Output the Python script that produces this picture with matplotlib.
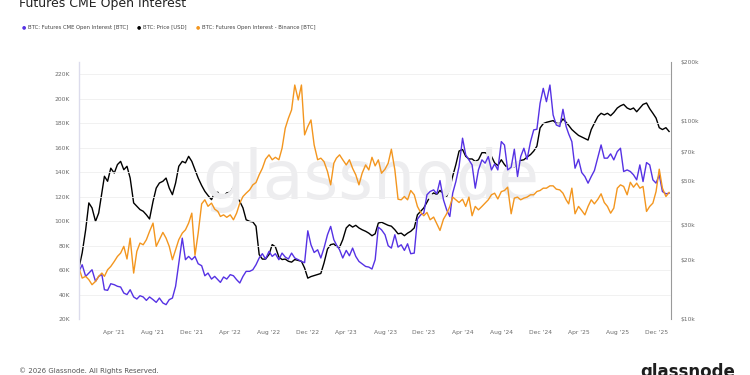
import matplotlib
matplotlib.use("Agg")
import matplotlib.pyplot as plt
import matplotlib.dates as mdates
import matplotlib.ticker as mticker
import pandas as pd

# sample dates: 1st, 11th and 21st of each month, Dec 2020 - Jan 2026
all_days = [f"{y}-{m:02d}-{d:02d}" for y in range(2020, 2027) for m in range(1, 13) for d in (1, 11, 21)]
dates = pd.to_datetime([d for d in all_days if "2020-12-11" <= d <= "2026-01-11"])

# BTC price, thousand USD (right, log axis)
price = [18.2, 21.6, 28.3, 38.7, 36.5, 31.2, 34.4, 43.5, 52.8, 49.8,
         58, 54.8, 60.5, 62.8, 57, 59.3, 51.7, 38.7, 37.2, 35.8,
         35.1, 33.7, 32.1, 39.4, 46, 48.8, 49.8, 51.7, 46, 42.6,
         48.8, 59.3, 62.8, 61.7, 66.6, 62.8, 57, 51.7, 47.4, 44.3,
         42.2, 40.2, 43.5, 43.8, 41,
         41.8, 43.5, 43.8, 46.5, 41.5,
         39.4, 36.5, 31.8, 31.2, 31, 29.5, 21.2, 20.1, 20.1, 21.2,
         23.8, 23.2, 20.6, 20, 20.1, 19.6, 19.4, 20, 19.8, 19.6,
         18.1, 16.1, 16.4, 16.6, 16.8, 17, 19.2, 22.6, 23.8, 24,
         23.3, 23.1, 25.2, 28.9, 30, 29.2, 29.8,
         28.9, 28.3, 27.8,
         27.2, 26.4, 27, 30.6, 30.9, 30.3, 29.8, 29.5, 28.3, 27,
         27.2, 26.4, 27.2, 27.8, 28.9, 33.7, 35.1, 36.5, 39, 41.8,
         43.5, 42.6, 44.8, 42.6, 41.8, 46, 52.8, 60.5, 70.8, 72.2,
         66.6, 64.6, 64.6, 62.8, 64, 69.5, 69.5, 68, 66.6, 61.7,
         59.8, 64,
         60.5, 58, 59, 59, 60.5, 63.5, 64, 66,
         68, 70.8, 75, 92.7, 97.5, 99, 100, 101, 98, 97.5,
         103, 99, 95.5, 91, 88, 85, 83.5, 82, 80.5, 91,
         98, 106, 110, 108, 110, 107, 111, 117, 120, 122,
         117, 115, 117, 112, 117, 122, 124, 116, 110, 104,
         93, 91, 93, 89]

# Binance futures open interest, thousand BTC
binance_oi = [61.6, 53.4, 54.8, 52.1, 48, 50.7, 54.8, 57.5, 54.8, 60.2,
              62.9, 67, 71.1, 73.8, 79.3, 69, 86, 57.5, 75.2, 82,
              80.6, 84.7, 91.5, 98.3, 79.3, 84.7, 90.7, 86, 79.3, 68.4,
              76.5, 84.7, 90.1, 92.8, 98.3, 106.4, 72, 90, 114, 117.3,
              112, 114.6, 109.7, 107.8, 103.7,
              105, 103, 105, 101, 106.4,
              114.6, 120, 122.7, 125.4, 129.5, 131.4, 137.7, 143, 150.4, 154,
              150, 152, 150, 159.4, 175.7, 183.9, 190.7, 211, 198.8, 211,
              170.3, 177.1, 182.5, 162.1, 150, 151.3, 148.5, 140.4, 129.5, 147.2,
              151.3, 154, 150, 145.8, 150, 143, 137.7,
              129.5, 139, 145.8,
              141.7, 152, 145, 149.9, 139, 142.3, 147.2, 158.6, 141.7, 117.8,
              117.3, 120, 117.3, 124.9, 121.4, 111.9, 107, 104.3, 107, 101,
              103.2, 97.7, 92.3, 101.5, 105.9, 111.9, 119.5, 117.3, 115.1, 117.8,
              111.9, 119.5, 104.3, 111.9, 109.1, 111.9, 114.6, 117.3, 121.4, 122.7,
              118, 124,
              124.9, 127.6, 105.9, 118.7, 119.5, 117.3, 118.7, 119.5,
              121.4, 121.4, 124.1, 124.9, 126.8, 126.8, 128.7, 128.7, 126, 125.4,
              122.7, 117.3, 114, 126.8, 105.9, 111.9, 108.6, 105, 111.9, 117.3,
              114, 117.8, 122.2, 115.1, 111.9, 106.4, 110.5, 126.8, 129.5, 128.2,
              121.4, 131.6, 127.6, 130.9, 126.8, 128.2, 107.8, 111.9, 114.6, 124.1,
              142.3, 126.8, 120, 123.3]

# CME futures open interest, thousand BTC
cme_oi = [58.9, 64.3, 54.8, 57.5, 60.2, 50.7, 54.8, 56.2, 43.9, 43.4,
          48.8, 48, 46.7, 46.1, 41.2, 39.9, 43.9, 38, 36.3, 39,
          38, 35.2, 38, 35.8, 33.6, 37.1, 33.1, 31.7, 35.8, 37.1,
          46.7, 65.7, 86, 68.4, 71.1, 68.4, 71.1, 65.1, 63.5, 55.3,
          57.5, 52.6, 54.8, 52.1, 49.9,
          54.3, 52.6, 56.2, 55.3, 52.1,
          49.4, 54.8, 58.9, 58.9, 60.2, 64.3, 69.8, 73.3, 69, 75.2,
          71.1, 73.3, 68.4, 73.8, 70.6, 69, 73.8, 69.8, 68.4, 67,
          66, 92, 80.6, 74.3, 76.5, 69.8, 77.9, 88.8, 95.6, 84.7,
          80.6, 76.5, 69.8, 76, 71.6, 77.9, 71.1,
          67, 65.1, 62.9,
          62.4, 60.8, 68.4, 95, 92.8, 88.8, 79.8, 77.9, 88.8, 78.7,
          80.6, 76, 81.4, 73.3, 73.8, 101.5, 105, 106.4, 121.4, 124.1,
          125.4, 122.2, 133, 117.3, 109.1, 103.7, 122.7, 132.2, 144.5, 167.6,
          154, 149.9, 145.8, 126.8, 141.7, 149.9, 147.2, 152.6, 141.7, 146.6,
          141.7, 164.8,
          162, 141.7, 143.9, 158.6, 136.3, 152.6, 159.4, 150.4,
          164.8, 174.4, 174.9, 196.1, 208.3, 197.4, 211, 186.6, 178.4, 177.1,
          191.2, 177.1, 171.1, 164.8, 143.1, 150.4, 139.6, 136.3, 130.9, 136.3,
          141.2, 152, 162.1, 151.3, 151.3, 154.8, 149.9, 156.7, 159.4, 140.4,
          141.7, 140.4, 137.7, 133.6, 145.8, 132.2, 147.7, 145.8, 133.6, 130.9,
          137.7, 124.1, 122.2, 122.7]

left_ticks = [20, 40, 60, 80, 100, 120, 140, 160, 180, 200, 220]
right_ticks = [10, 20, 30, 50, 70, 100, 200]
legend_labels = ["BTC: Futures CME Open Interest [BTC]", "BTC: Price [USD]",
                 "BTC: Futures Open Interest - Binance [BTC]"]

c_blue = "#5632e4"
c_orange = "#f3961f"
c_grey = "#6b6b6b"

fig = plt.figure(figsize=(7.5, 3.75), dpi=100)
ax = fig.add_axes([79/750, 1-319/375, 592/750, 257/375])
ax2 = ax.twinx()
ax.set_zorder(ax2.get_zorder() + 1)
ax.patch.set_visible(False)

ax2.plot(dates, price, color="black", lw=1.0)
ax.plot(dates, cme_oi, color=c_blue, lw=1.0)
ax.plot(dates, binance_oi, color=c_orange, lw=1.0)

# watermark
ax.text(0.493, 0.54, "glassnode", transform=ax.transAxes, fontsize=48,
        color="#ededef", ha="center", va="center", zorder=0)

ax.set_ylim(20, 229.8)
ax.set_yticks(left_ticks)
ax.set_yticklabels([f"{v}K" for v in left_ticks])
ax.grid(axis="y", color="#efefef", lw=0.6)
ax.set_axisbelow(True)

ax2.set_yscale("log")
ax2.set_ylim(10, 200)
ax2.yaxis.set_major_locator(mticker.FixedLocator(right_ticks))
ax2.yaxis.set_minor_locator(mticker.NullLocator())
ax2.set_yticklabels([f"${v}k" for v in right_ticks])

ax.set_xlim(pd.Timestamp("2020-12-11"), pd.Timestamp("2026-01-17"))
ax.xaxis.set_major_locator(mdates.MonthLocator(bymonth=[4, 8, 12]))
ax.xaxis.set_major_formatter(mdates.DateFormatter("%b '%y"))

for a in (ax, ax2):
    for s in a.spines.values():
        s.set_visible(False)
ax.spines["left"].set_visible(True)
ax.spines["left"].set_color("#dcdcec")
ax.spines["left"].set_linewidth(1.0)
ax2.spines["right"].set_visible(True)
ax2.spines["right"].set_color("#9a9a9a")
ax2.spines["right"].set_linewidth(0.8)

ax.tick_params(axis="y", length=0, pad=6.5, labelsize=4.3, labelcolor=c_grey)
ax.tick_params(axis="x", length=0, pad=8, labelsize=4.3, labelcolor=c_grey)
ax2.tick_params(axis="y", length=0, pad=6.5, labelsize=4.3, labelcolor=c_grey)

# title, cut at the top edge as in the source
fig.text(19/750, 1-7/375, "Futures CME Open Interest", fontsize=9,
         color="#222222", va="baseline", ha="left")

# legend
leg_y = 1 - 27/375
for xd, xt, col, lab in [(22, 28, c_blue, legend_labels[0]),
                         (137, 143, "black", legend_labels[1]),
                         (196, 202, c_orange, legend_labels[2])]:
    fig.text(xd/750, leg_y, "\u25cf", color=col, fontsize=3.5, va="center", ha="left")
    fig.text(xt/750, leg_y, lab, color="#444444", fontsize=3.75, va="center", ha="left")

# footer
fig.text(19/750, 1-371/375, "\u00a9 2026 Glassnode. All Rights Reserved.",
         fontsize=5, color="#555555", va="center", ha="left")
fig.text(640/750, 1-363/375, "glassnode", fontsize=12, color="#1e1e1e",
         va="top", ha="left", fontweight="bold")

fig.savefig("out.png", dpi=100, facecolor="white")
